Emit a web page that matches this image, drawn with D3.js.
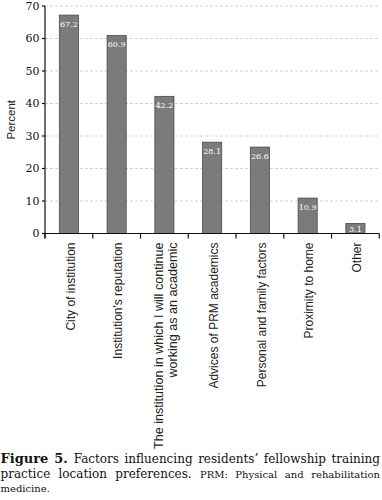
<!DOCTYPE html>
<html>
<head>
<meta charset="utf-8">
<script src="https://cdn.jsdelivr.net/npm/d3@7/dist/d3.min.js"></script>
<style>
  html, body { margin: 0; padding: 0; background: #fff; }
  svg { display: block; }
</style>
</head>
<body>
<svg id="chart" width="382" height="500"></svg>
<script>
const categories = [
  ["City of institution"],
  ["Institution's reputation"],
  ["The institution in which I will continue", "working as an academic"],
  ["Advices of PRM academics"],
  ["Personal and family factors"],
  ["Proximity to home"],
  ["Other"]
];
const values = [67.2, 60.9, 42.2, 28.1, 26.6, 10.9, 3.1];
const yTicks = [0, 10, 20, 30, 40, 50, 60, 70];
const yTitle = "Percent";
const captionBold = "Figure 5.";
const captionMain1 = "Factors influencing residents’ fellowship training";
const captionMain2 = "practice location preferences.";
const captionSmall2 = "PRM: Physical and rehabilitation";
const captionSmall3 = "medicine.";

(function () {
const svg = d3.select("#chart");
const mLeft = 45, mRight = 379.3, mTop = 6, mBottom = 233.5;
const keys = categories.map((c, i) => i);

const x = d3.scaleBand().domain(keys).range([mLeft, mRight])
  .paddingInner(0.6).paddingOuter(0.3);
const y = d3.scaleLinear().domain([0, 70]).range([mBottom, mTop]);

// gridlines
svg.append("g").selectAll("line").data(yTicks.filter(d => d > 0)).join("line")
  .attr("x1", mLeft).attr("x2", mRight)
  .attr("y1", d => y(d)).attr("y2", d => y(d))
  .attr("stroke", "#c8c8c8").attr("stroke-width", 0.8)
  .attr("stroke-dasharray", "3,2");

// bars
svg.append("g").selectAll("rect").data(values).join("rect")
  .attr("x", (d, i) => x(i)).attr("width", x.bandwidth())
  .attr("y", d => y(d)).attr("height", d => y(0) - y(d))
  .attr("fill", "#7b7b7b").attr("stroke", "#4a4a4a").attr("stroke-width", 0.8);

// value labels
svg.append("g").selectAll("text").data(values).join("text")
  .attr("x", (d, i) => x(i) + x.bandwidth() / 2)
  .attr("y", d => Math.min(y(d) + 11.5, y(0) - 1.8))
  .attr("text-anchor", "middle")
  .attr("font-family", "DejaVu Serif")
  .attr("font-size", 8)
  .attr("fill", "#fff")
  .text(d => d.toFixed(1));

// y axis
const yAxis = svg.append("g");
yAxis.append("line").attr("x1", mLeft).attr("x2", mLeft)
  .attr("y1", y(70)).attr("y2", y(0) + 5)
  .attr("stroke", "#111").attr("stroke-width", 1.2);
yAxis.selectAll(".yt").data(yTicks).join("line")
  .attr("x1", mLeft - 3).attr("x2", mLeft)
  .attr("y1", d => y(d)).attr("y2", d => y(d))
  .attr("stroke", "#111").attr("stroke-width", 1.2);
yAxis.selectAll("text").data(yTicks).join("text")
  .attr("x", mLeft - 5.5).attr("y", d => y(d)).attr("dy", "0.36em")
  .attr("text-anchor", "end")
  .attr("font-family", "DejaVu Serif").attr("font-size", 11)
  .attr("fill", "#111")
  .text(d => d);

svg.append("text")
  .attr("transform", `translate(10.5,${(y(0) + y(70)) / 2}) rotate(-90)`)
  .attr("dy", "0.36em")
  .attr("text-anchor", "middle")
  .attr("font-family", "Liberation Sans").attr("font-size", 11.5)
  .attr("fill", "#222")
  .text(yTitle);

// x axis
const xAxis = svg.append("g");
xAxis.append("line").attr("x1", mLeft).attr("x2", mRight)
  .attr("y1", y(0)).attr("y2", y(0))
  .attr("stroke", "#111").attr("stroke-width", 1.2);
const gap = (x.step() - x.bandwidth()) / 2;
const boundaries = keys.map(i => x(i) - gap).concat([mRight]);
xAxis.selectAll(".xt").data(boundaries).join("line")
  .attr("x1", d => d).attr("x2", d => d)
  .attr("y1", y(0)).attr("y2", y(0) + 5)
  .attr("stroke", "#111").attr("stroke-width", 1.2);

const lineH = 14;
categories.forEach((lines, i) => {
  const cx = x(i) + x.bandwidth() / 2 + 1.5;
  const fs = lines.length > 1 ? 12.6 : 12;
  lines.forEach((ln, j) => {
    const off = (j - (lines.length - 1) / 2) * lineH;
    svg.append("text")
      .attr("transform", `translate(${cx + off},${y(0) + 9}) rotate(-90)`)
      .attr("dy", "0.36em")
      .attr("text-anchor", "end")
      .attr("font-family", "Liberation Sans").attr("font-size", fs)
      .attr("fill", "#222")
      .text(ln);
  });
});

// caption with justified word placement
const capLeft = 0.5, capRight = 380;
function wordsOf(str, style) {
  return str.split(" ").map(w => Object.assign({ w }, style));
}
function layoutLine(words, baseline, justify) {
  const g = svg.append("g");
  const nodes = words.map(o => {
    const t = g.append("text")
      .attr("y", baseline)
      .attr("font-family", "DejaVu Serif")
      .attr("font-size", o.size)
      .attr("font-weight", o.bold ? "bold" : "normal")
      .attr("fill", "#111")
      .text(o.w);
    return { t, len: t.node().getComputedTextLength(), sp: o.size * 0.318 };
  });
  const total = d3.sum(nodes, n => n.len);
  const gaps = nodes.length - 1;
  let spacing = nodes.slice(0, -1).map(n => n.sp);
  if (justify && gaps > 0) {
    const extra = (capRight - capLeft - total - d3.sum(spacing)) / gaps;
    spacing = spacing.map(s => s + extra);
  }
  let cur = capLeft;
  nodes.forEach((n, k) => {
    n.t.attr("x", cur);
    cur += n.len + (k < gaps ? spacing[k] : 0);
  });
}
const mainSize = 12, smallSize = 10;
layoutLine(
  wordsOf(captionBold, { size: 13, bold: true })
    .concat(wordsOf(captionMain1, { size: mainSize })),
  462.5, true);
layoutLine(
  wordsOf(captionMain2, { size: mainSize })
    .concat(wordsOf(captionSmall2, { size: smallSize })),
  477.5, true);
layoutLine(wordsOf(captionSmall3, { size: smallSize }), 492, false);
})();
</script>
</body>
</html>
